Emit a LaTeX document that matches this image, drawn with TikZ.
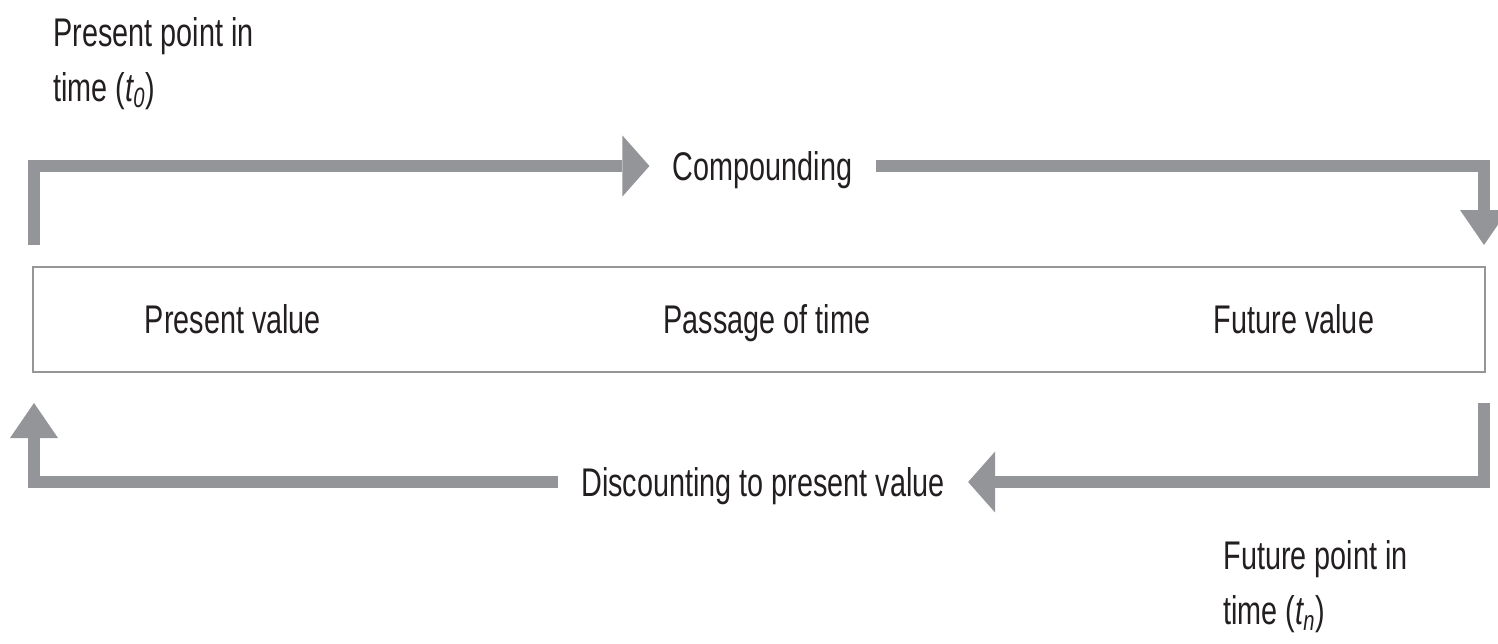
\documentclass[tikz,border=0pt]{standalone}
\usepackage{fontspec}
\setmainfont{Liberation Sans}[FakeStretch=0.72]
\usetikzlibrary{arrows.meta}
\definecolor{flowgrey}{RGB}{147,149,152}
\definecolor{framegrey}{RGB}{150,150,150}
\definecolor{ink}{RGB}{35,31,32}

\begin{document}
\begin{tikzpicture}[x=0.5pt,y=-0.5pt,
  every node/.style={font=\fontsize{20}{27.5}\selectfont, text=ink},
  flow/.style={draw=flowgrey, line width=6pt, line join=miter},
  htip/.style={-{Triangle[length=13.5pt,width=30.5pt,line width=0pt]}},
  vtip/.style={-{Triangle[length=17.5pt,width=24pt,line width=0pt]}},
  inline/.style={inner xsep=11.5pt, inner ysep=0pt, text height=14.3pt, text depth=0pt},
  boxlabel/.style={inner sep=0pt, text height=14.3pt, text depth=0pt},
  timelabel/.style={align=left, inner sep=0pt, anchor=north west}]
\useasboundingbox (0,0) rectangle (1498,643);

% the time line box and its three labels
\node[draw=framegrey, line width=1pt, minimum width=726pt, minimum height=52.5pt, inner sep=0pt] (timeline) at (759,319.5) {};
\node[boxlabel] (pv) at (233,319.5) {Present value};
\node[boxlabel] (pot) at (767,319.5) {Passage of time};
\node[boxlabel] (fv) at (1294,319.5) {Future value};

% flow labels sitting on the arrows
\node[inline] (comp) at (762.5,166) {Compounding};
\node[inline] (disc) at (763,482) {Discounting to present value};

% points in time
\node[timelabel] (t0) at (53,17) {Present point in\\time ({\itshape t}\textsubscript{\itshape 0})};
\node[timelabel] (tn) at (1223,540) {Future point in\\time ({\itshape t}\textsubscript{\itshape n})};

% free ends of the flow arrows
\coordinate (cstart) at (34,245);
\coordinate (cend) at (1484,245);
\coordinate (dstart) at (1484,403);
\coordinate (dend) at (34,403);

% compounding: present to future
\draw[flow, htip] (cstart) |- (comp.west);
\draw[flow, vtip] (comp.east) -| (cend);

% discounting: future back to present
\draw[flow, htip] (dstart) |- (disc.east);
\draw[flow, vtip] (disc.west) -| (dend);
\end{tikzpicture}
\end{document}
